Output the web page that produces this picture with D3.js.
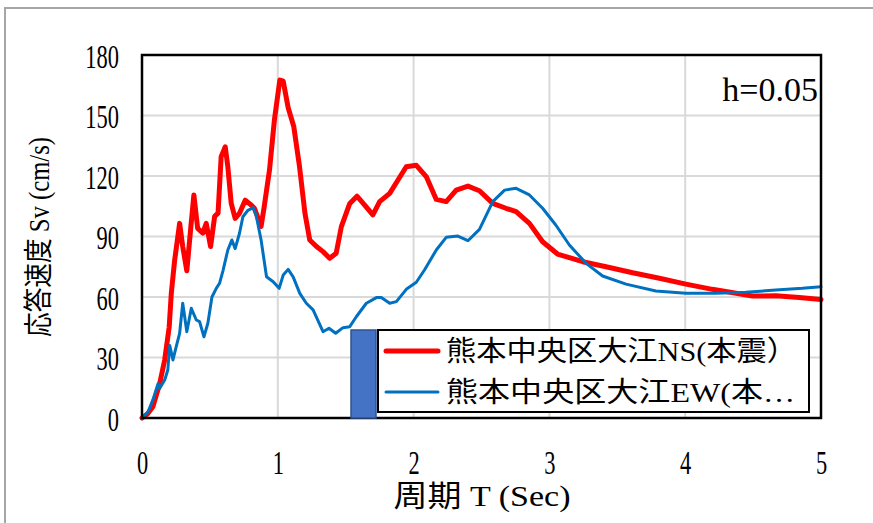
<!DOCTYPE html>
<html>
<head>
<meta charset="utf-8">
<script src="https://cdn.jsdelivr.net/npm/d3@7"></script>
<style>
  html, body { margin: 0; padding: 0; background: #fff; }
  svg { display: block; }
  text { font-family: "Liberation Serif", "Noto Sans CJK JP", serif; fill: #000; }
</style>
</head>
<body>
<svg id="chart" width="873" height="523"></svg>
<script>
// Response velocity spectrum, h = 0.05 — Kumamoto Chuo-ku Oe, main shock
const nsPeriod = [0, 0.04, 0.08, 0.13, 0.167, 0.2, 0.216, 0.24, 0.277, 0.3, 0.33, 0.36, 0.382, 0.41, 0.448, 0.473, 0.505, 0.535, 0.56, 0.583, 0.613, 0.632, 0.657, 0.686, 0.718, 0.76, 0.804, 0.828, 0.877, 0.9, 0.939, 0.975, 1.015, 1.04, 1.076, 1.118, 1.16, 1.2, 1.235, 1.285, 1.333, 1.382, 1.43, 1.468, 1.53, 1.583, 1.64, 1.7, 1.75, 1.824, 1.885, 1.946, 2.02, 2.093, 2.167, 2.24, 2.314, 2.4, 2.485, 2.583, 2.68, 2.755, 2.853, 2.95, 3.06, 3.245, 3.417, 3.613, 3.81, 4.005, 4.2, 4.495, 4.667, 4.84, 5.0];
const nsVelocity = [0, 2, 5.6, 17, 28.8, 45, 62, 78, 96.5, 85, 73, 95, 110.6, 94, 91.7, 96.5, 85, 100, 101.6, 129.6, 134.5, 124.6, 106.4, 99, 101.5, 108, 105.6, 104, 95, 104.8, 123, 147.8, 167.6, 167, 154, 144.4, 124.6, 101.5, 88.3, 85, 82.5, 79.2, 81.7, 94.9, 106.4, 110, 105.6, 100.7, 107.3, 111.4, 118, 124.6, 125.3, 119.7, 108.4, 107.3, 113, 115, 112.7, 106.4, 104, 102.3, 96.5, 87.4, 81.3, 77.5, 75, 72, 69.3, 66.4, 63.8, 60.5, 60.6, 59.8, 58.8];

const ewPeriod = [0, 0.044, 0.08, 0.118, 0.13, 0.167, 0.19, 0.204, 0.228, 0.252, 0.277, 0.3, 0.33, 0.363, 0.4, 0.424, 0.456, 0.485, 0.515, 0.547, 0.571, 0.596, 0.632, 0.662, 0.686, 0.718, 0.743, 0.78, 0.819, 0.84, 0.877, 0.917, 0.966, 1.01, 1.04, 1.076, 1.113, 1.162, 1.21, 1.26, 1.333, 1.377, 1.426, 1.48, 1.53, 1.578, 1.652, 1.726, 1.762, 1.824, 1.873, 1.946, 2.02, 2.08, 2.167, 2.24, 2.326, 2.4, 2.485, 2.583, 2.67, 2.755, 2.853, 2.95, 3.047, 3.147, 3.27, 3.392, 3.564, 3.784, 4.005, 4.225, 4.446, 4.667, 4.863, 5.0];
const ewVelocity = [0, 3, 9, 17, 14.7, 18.8, 23.8, 36, 28.8, 35.4, 42, 56.9, 42.8, 54.4, 48.6, 47.8, 40.3, 47, 60, 64.3, 66.8, 73, 83.3, 88.3, 84, 91.6, 99.8, 103, 104.3, 100.7, 88.3, 70, 67.6, 64.3, 70.9, 73.7, 70, 61.8, 56.9, 53.6, 42.8, 44.5, 42, 44.8, 45.3, 50.2, 56.9, 59.7, 59.8, 56.9, 57.7, 63.8, 67.3, 73.4, 83.3, 89.6, 90.2, 87.9, 93.5, 107.3, 113, 113.9, 110.6, 104, 95.7, 85.8, 76.7, 70.4, 66.4, 63, 61.8, 61.8, 62.3, 63.5, 64.3, 65.1];

const xTicks = [0, 1, 2, 3, 4, 5];
const yTicks = [0, 30, 60, 90, 120, 150, 180];
const seriesNames = ["熊本中央区大江NS(本震）", "熊本中央区大江EW(本…"];
const seriesColors = ["#ff0000", "#0070c0"];
const dampingLabel = "h=0.05";
const xTitle = "周期 T (Sec)";
const yTitle = "応答速度 Sv (cm/s)";

const svg = d3.select("#chart");
const margin = { left: 142, right: 52, top: 55, bottom: 105 };
const W = 873, H = 523;
const x = d3.scaleLinear().domain([0, 5]).range([margin.left, W - margin.right]);
const y = d3.scaleLinear().domain([0, 180]).range([H - margin.bottom, margin.top]);

// outer chart-area frame
svg.append("rect").attr("x", 5).attr("y", 8).attr("width", 900).attr("height", 600)
  .attr("fill", "#fff").attr("stroke", "#a6a6a6").attr("stroke-width", 2);

// gridlines
const grid = svg.append("g").attr("stroke", "#d9d9d9").attr("stroke-width", 2);
grid.selectAll("line.v").data(xTicks.slice(1, -1)).join("line")
  .attr("x1", d => x(d)).attr("x2", d => x(d)).attr("y1", y(0)).attr("y2", y(180));
grid.selectAll("line.h").data(yTicks.slice(1, -1)).join("line")
  .attr("x1", x(0)).attr("x2", x(5)).attr("y1", d => y(d)).attr("y2", d => y(d));

// tick labels via d3 axes (domain and tick marks hidden)
const squeeze = 0.68;
const xAxis = svg.append("g").attr("transform", `translate(0,${y(0)})`)
  .call(d3.axisBottom(x).tickValues(xTicks).tickSize(0).tickPadding(0).tickFormat(d3.format("d")));
xAxis.select(".domain").remove();
xAxis.selectAll("text").attr("font-size", 33).attr("y", 0).attr("dy", 0)
  .attr("transform", `translate(0,56) scale(${squeeze},1)`)
  .attr("x", 0).attr("text-anchor", "middle")
  .style("font-family", "'Liberation Serif', serif").attr("fill", "#000");

const yAxis = svg.append("g").attr("transform", `translate(${x(0)},0)`)
  .call(d3.axisLeft(y).tickValues(yTicks).tickSize(0).tickPadding(0).tickFormat(d3.format("d")));
yAxis.select(".domain").remove();
yAxis.selectAll("text").attr("font-size", 33).attr("x", 0).attr("dy", 0)
  .attr("transform", `translate(-23,12) scale(${squeeze},1)`)
  .attr("text-anchor", "end")
  .style("font-family", "'Liberation Serif', serif").attr("fill", "#000");

// spectra
const line = d3.line().x(d => x(d[0])).y(d => y(d[1])).curve(d3.curveLinear);
const ns = d3.zip(nsPeriod, nsVelocity);
const ew = d3.zip(ewPeriod, ewVelocity);
svg.append("path").datum(ns).attr("d", line).attr("fill", "none")
  .attr("stroke", seriesColors[0]).attr("stroke-width", 5).attr("stroke-linejoin", "round").attr("stroke-linecap", "round");
svg.append("path").datum(ew).attr("d", line).attr("fill", "none")
  .attr("stroke", seriesColors[1]).attr("stroke-width", 3).attr("stroke-linejoin", "round").attr("stroke-linecap", "round");

// plot frame
svg.append("rect").attr("x", x(0)).attr("y", y(180)).attr("width", x(5) - x(0)).attr("height", y(0) - y(180))
  .attr("fill", "none").attr("stroke", "#000").attr("stroke-width", 2.5);

// damping annotation
svg.append("text").attr("x", x(5) - 3).attr("y", 101).attr("text-anchor", "end")
  .attr("font-size", 34).text(dampingLabel);

// marker block beside legend
svg.append("rect").attr("x", 351).attr("y", 330).attr("width", 25).attr("height", y(0) - 330)
  .attr("fill", "#4472c4").attr("stroke", "#2f528f").attr("stroke-width", 1.5);

// legend
const lg = svg.append("g");
lg.append("rect").attr("x", 378).attr("y", 330).attr("width", 431).attr("height", 82)
  .attr("fill", "#fff").attr("stroke", "#000").attr("stroke-width", 2);
const legendWidths = [351, 349];
seriesNames.forEach((name, i) => {
  const cy = 351 + i * 41;
  lg.append("line").attr("x1", 386).attr("x2", 438).attr("y1", cy).attr("y2", cy)
    .attr("stroke", seriesColors[i]).attr("stroke-width", i === 0 ? 5 : 3).attr("stroke-linecap", "round");
  lg.append("text").attr("x", 446).attr("y", cy + 10).attr("font-size", 28)
    .attr("textLength", legendWidths[i]).attr("lengthAdjust", "spacingAndGlyphs").text(name);
});

// axis titles
svg.append("text").attr("x", (x(0) + x(5)) / 2 - 88).attr("y", 506)
  .attr("font-size", 30).attr("textLength", 177).attr("lengthAdjust", "spacingAndGlyphs").text(xTitle);
svg.append("text").attr("transform", `translate(49,237) rotate(-90) scale(0.85,1)`)
  .attr("text-anchor", "middle").attr("font-size", 29).text(yTitle);
</script>
</body>
</html>
